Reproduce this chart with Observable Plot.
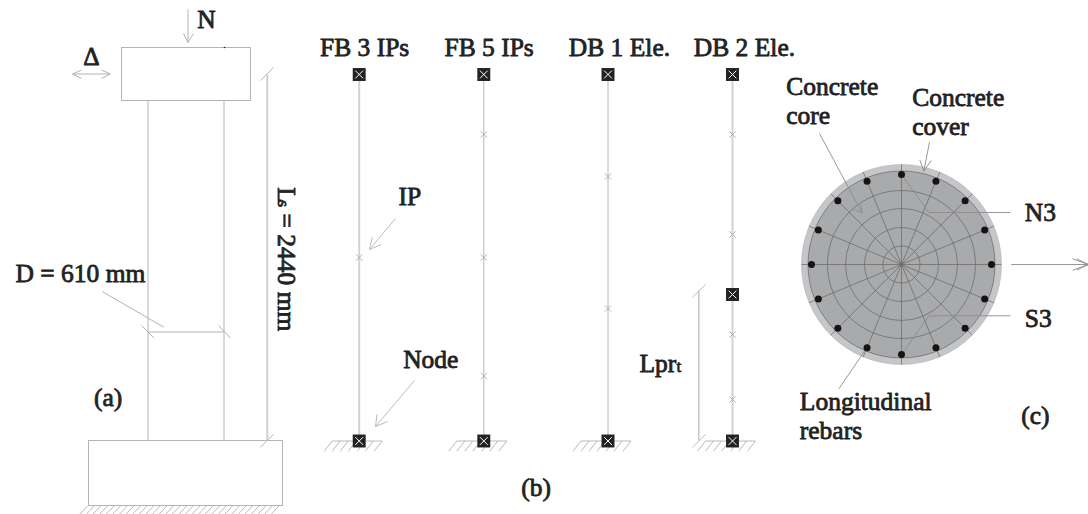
<!DOCTYPE html>
<html>
<head>
<meta charset="utf-8">
<script src="https://cdn.jsdelivr.net/npm/d3@7"></script>
<script src="https://cdn.jsdelivr.net/npm/@observablehq/plot@0.6"></script>
<style>html,body{margin:0;padding:0;background:#fff}svg{display:block}</style>
</head>
<body>
<div id="chart"></div>
<script>
// Panel (a): column outline
const columnBoxes = [[121.5,47.5,250.5,100.5],[88.5,440.5,282.5,505.5]];
const columnLines = [
  [147.5,100.5,147.5,440.5],[223.5,100.5,223.5,440.5],
  [187.5,9,187.5,42],[183,33,187.5,42],[193,33,187.5,42],
  [72,73.5,110,73.5],[72,73.5,81,69.5],[72,73.5,81,78],[110,73.5,101,69.5],[110,73.5,101,78],
  [147.5,331.5,223.5,331.5],[141,325,153.7,337.7],[218,325,230,337.7],[101.7,291,163.3,326.7],
  [260,80,273,67],[260,446.7,273,434]
];
const lengthDim = [[266.8,74,266.8,440]];
const foundationHatchTops = d3.range(87,285,6.6);

// Panel (b): element models
const elementX = [358.7,483.3,607.5,732];
const elementWide = [true,false,false,true];
const nodes = [
  [358.7,74],[358.7,440.5],[483.3,74],[483.3,440.5],[607.5,74],[607.5,440.5],
  [732,74],[732,294],[732,440.5]
];
const integrationPoints = [
  [358.7,257],
  [483.3,134],[483.3,257],[483.3,375.5],
  [607.5,176],[607.5,308],
  [732,134],[732,234],[732,334],[732,399]
];
const supportHatch = [-27,-19,-11,-3,6,14,23];
const elementLeaders = [
  [395,218,369,249],[371.7,236.7,369,249],[380.7,244,369,249],
  [414,380,375,426],[376.5,414,375,426],[387,421,375,426],
  [692,296.7,704.7,284.3],[692,446.7,704.7,434.3]
];
const lprDim = [[698.3,290,698.3,440]];

// Panel (c): section
const centre = {x:901,y:264};
const coverR = 100, coreR = 93.5, rebarR = 90, spokeR = 100;
const ringRadii = [18.5,37,56,74];
const angleDeg = [0,22.5,45,67.5,90,112.5,135,157.5,180,202.5,225,247.5,270,292.5,315,337.5];
const sectionLeaders = [
  [819,133,861.7,212.7],[860,203.3,861.7,212.7],[852.7,208.3,861.7,212.7],
  [929,141.7,923.3,170.7],[919.3,159.3,923.3,170.7],[930.7,160,923.3,170.7],
  [1010,212,928.3,212],[928.3,212,901.3,174.3],
  [1010,315.3,928.3,315.3],[928.3,315.3,901.3,354],
  [838.3,388.3,865,349.3],
  [1010.7,264,1088,264],[1072,258.3,1088,264],[1072,269.7,1088,264],[1076,258.3,1088,264],[1076,269.7,1088,264]
];

// Text labels: [text, x, baseline y]
const labels = [
  ["N",196.7,27.3],["Δ",82.7,64.3],["D = 610 mm",15,281.7],["(a)",93.5,405],
  ["FB 3 IPs",319.5,55],["FB 5 IPs",444,55],["DB 1 Ele.",568.3,55],["DB 2 Ele.",693.3,55],
  ["IP",398,204],["Node",402.7,367.3],["Lpr",639,371],["(b)",520.7,495],
  ["Concrete",785.7,94.3],["core",785.7,123.3],["Concrete",911.7,105],["cover",911.7,134],
  ["N3",1024.3,220],["S3",1024.3,326],["Longitudinal",799.3,409],["rebars",799.3,438.3],["(c)",1020.7,423]
];
const smallLabels = [["t",676,371]];
const rotatedLabels = [["L",277.7,186.7,25.5],["s",277.7,200,17],["= 2440 mm",277.7,213,25.5]];

const spokes = angleDeg.map(a => ({a}));
const polar = (r,a) => [centre.x + r*Math.cos(a*Math.PI/180), centre.y + r*Math.sin(a*Math.PI/180)];
const seg = (mark, rows, o) => mark(rows, {x1:d=>d[0],y1:d=>d[1],x2:d=>d[2],y2:d=>d[3],...o});
const line = "#b4b4b4", ink = "#222";
const font = {fontFamily:"Liberation Serif", fill:ink, stroke:ink, strokeWidth:0.8, textAnchor:"start", lineAnchor:"bottom"};

const plot = Plot.plot({
  width:1088, height:514, margin:0,
  x:{domain:[0,1088],range:[0,1088],axis:null},
  y:{domain:[0,514],range:[0,514],axis:null},
  r:{type:"identity"},
  style:{background:"#fff"},
  marks:[
    Plot.rect(columnBoxes,{x1:d=>d[0],y1:d=>d[1],x2:d=>d[2],y2:d=>d[3],fill:"none",stroke:line,strokeWidth:1}),
    seg(Plot.link,columnLines,{stroke:line,strokeWidth:1}),
    seg(Plot.link,lengthDim,{stroke:"#cfcfcf",strokeWidth:2}),
    Plot.dot([[224,47]],{x:d=>d[0],y:d=>d[1],r:0.8,fill:"#222"}),
    Plot.link(foundationHatchTops,{x1:d=>d,y1:505.5,x2:d=>d-8,y2:514,stroke:"#a8a8a8",strokeWidth:0.8}),

    Plot.link(elementX,{x1:d=>d,x2:d=>d,y1:74,y2:440,
      stroke:(d,i)=>elementWide[i]?"#d2d2d2":"#b8b8b8",
      strokeWidth:(d,i)=>elementWide[i]?2:1}),
    seg(Plot.link,lprDim,{stroke:"#bdbdbd",strokeWidth:1.3}),
    seg(Plot.link,elementLeaders,{stroke:line,strokeWidth:0.9}),
    ...elementX.map(cx => Plot.link(supportHatch,{x1:d=>cx+d,y1:440.5,x2:d=>cx+d-8,y2:450.7,stroke:"#a8a8a8",strokeWidth:0.8})),
    ...elementX.map(cx => Plot.link([[cx-27,cx+23]],{x1:d=>d[0],x2:d=>d[1],y1:440.5,y2:440.5,stroke:"#a8a8a8",strokeWidth:0.8})),
    Plot.dot(integrationPoints,{x:d=>d[0],y:d=>d[1],symbol:"times",r:3,stroke:"#aaa",strokeWidth:0.9}),
    Plot.dot(nodes,{x:d=>d[0],y:d=>d[1],symbol:"square",r:7.3,fill:ink}),
    Plot.dot(nodes,{x:d=>d[0],y:d=>d[1],symbol:"times",r:3.6,stroke:"#fff",strokeWidth:1}),

    Plot.dot([coverR],{x:()=>centre.x,y:()=>centre.y,r:d=>d,fill:"#c4c6c9",stroke:"#aaa",strokeWidth:0.5}),
    Plot.dot([coreR],{x:()=>centre.x,y:()=>centre.y,r:d=>d,fill:"#a9aaac",stroke:"#666",strokeWidth:0.7}),
    Plot.dot(ringRadii,{x:()=>centre.x,y:()=>centre.y,r:d=>d,fill:"none",stroke:"#666",strokeWidth:0.7}),
    Plot.link(spokes,{x1:centre.x,y1:centre.y,x2:d=>polar(spokeR,d.a)[0],y2:d=>polar(spokeR,d.a)[1],stroke:"#666",strokeWidth:0.7}),
    seg(Plot.link,sectionLeaders,{stroke:"#8c8c8c",strokeWidth:0.9}),
    Plot.dot(angleDeg,{x:d=>polar(rebarR,d)[0],y:d=>polar(rebarR,d)[1],r:3.5,fill:"#141414"}),

    Plot.text(labels,{x:d=>d[1],y:d=>d[2],text:d=>d[0],fontSize:25.5,...font}),
    Plot.text(smallLabels,{x:d=>d[1],y:d=>d[2],text:d=>d[0],fontSize:17,...font}),
    Plot.text(rotatedLabels.filter(d=>d[3]>20),{x:d=>d[1],y:d=>d[2],text:d=>d[0],fontSize:25.5,rotate:90,...font}),
    Plot.text(rotatedLabels.filter(d=>d[3]<20),{x:d=>d[1],y:d=>d[2],text:d=>d[0],fontSize:17,rotate:90,...font})
  ]
});
document.getElementById("chart").append(plot);
</script>
</body>
</html>
